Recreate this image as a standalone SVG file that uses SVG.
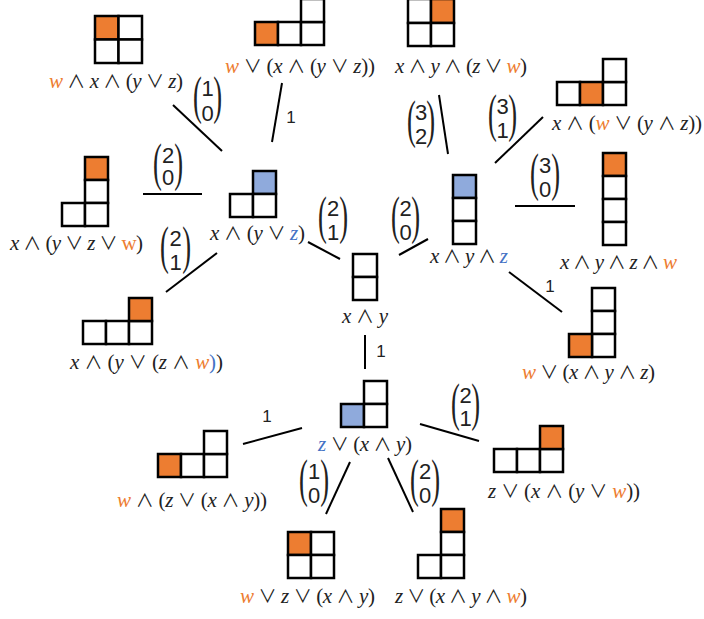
<svg xmlns="http://www.w3.org/2000/svg" width="704" height="619" viewBox="0 0 704 619">
<style>
.c{fill:#fff;stroke:#000;stroke-width:2.5}
.o{fill:#ED7D31}
.b{fill:#8FAADC}
.lb{font-family:"Liberation Serif","DejaVu Serif",serif;font-size:21px;fill:#222}
.v{font-style:italic}
.op{font-family:"Noto Sans CJK JP","DejaVu Sans",sans-serif;font-size:18px}
.or{fill:#ED7D31}
.bl{fill:#4472C4}
.e{stroke:#000;stroke-width:2;fill:none}
.n{font-family:"Liberation Sans",sans-serif;font-size:17px;fill:#222;text-anchor:middle}
.bd{font-family:"Liberation Sans",sans-serif;font-size:22px;fill:#222;text-anchor:middle}
.p{font-family:"Liberation Serif",serif;font-size:53px;fill:#222}
.pe{text-anchor:end}
</style>
<rect width="704" height="619" fill="#fff"/>
<g id="connectors">
<line class="e" x1="173" y1="105" x2="222" y2="151"/>
<line class="e" x1="282" y1="83" x2="272" y2="142"/>
<line class="e" x1="143" y1="194" x2="202" y2="194"/>
<line class="e" x1="217" y1="253" x2="166" y2="292"/>
<line class="e" x1="308" y1="242" x2="340" y2="259"/>
<line class="e" x1="439" y1="95" x2="448" y2="154"/>
<line class="e" x1="543" y1="117" x2="495" y2="163"/>
<line class="e" x1="515" y1="206" x2="575" y2="206"/>
<line class="e" x1="399" y1="255" x2="428" y2="239"/>
<line class="e" x1="509" y1="272" x2="562" y2="312"/>
<line class="e" x1="365" y1="335" x2="365" y2="369"/>
<line class="e" x1="243" y1="444" x2="302" y2="428"/>
<line class="e" x1="420" y1="424" x2="479" y2="441"/>
<line class="e" x1="350" y1="462" x2="326" y2="514"/>
<line class="e" x1="388" y1="458" x2="413" y2="512"/>
<text class="n" x="291" y="123">1</text>
<text class="n" x="550" y="292">1</text>
<text class="n" x="381" y="357">1</text>
<text class="n" x="267" y="422">1</text>
<g id="b1"><text class="p" transform="translate(193,113) scale(0.5,1)">(</text><text class="p pe" transform="translate(222,113) scale(0.5,1)">)</text><text class="bd" x="207.5" y="96">1</text><text class="bd" x="207.5" y="121">0</text></g>
<g id="b2"><text class="p" transform="translate(153,180) scale(0.5,1)">(</text><text class="p pe" transform="translate(183,180) scale(0.5,1)">)</text><text class="bd" x="168" y="163">2</text><text class="bd" x="168" y="185">0</text></g>
<g id="b3"><text class="p" transform="translate(160,263) scale(0.5,1)">(</text><text class="p pe" transform="translate(191,263) scale(0.5,1)">)</text><text class="bd" x="175.5" y="246">2</text><text class="bd" x="175.5" y="270">1</text></g>
<g id="b4"><text class="p" transform="translate(318,233) scale(0.5,1)">(</text><text class="p pe" transform="translate(348,233) scale(0.5,1)">)</text><text class="bd" x="333" y="216">2</text><text class="bd" x="333" y="240">1</text></g>
<g id="b5"><text class="p" transform="translate(391,233) scale(0.5,1)">(</text><text class="p pe" transform="translate(420,233) scale(0.5,1)">)</text><text class="bd" x="405.5" y="216">2</text><text class="bd" x="405.5" y="240">0</text></g>
<g id="b6"><text class="p" transform="translate(407,137) scale(0.5,1)">(</text><text class="p pe" transform="translate(435,137) scale(0.5,1)">)</text><text class="bd" x="421" y="120">3</text><text class="bd" x="421" y="144">2</text></g>
<g id="b7"><text class="p" transform="translate(488,131) scale(0.5,1)">(</text><text class="p pe" transform="translate(517,131) scale(0.5,1)">)</text><text class="bd" x="502.5" y="114">3</text><text class="bd" x="502.5" y="138">1</text></g>
<g id="b8"><text class="p" transform="translate(530,190) scale(0.5,1)">(</text><text class="p pe" transform="translate(560,190) scale(0.5,1)">)</text><text class="bd" x="545" y="173">3</text><text class="bd" x="545" y="197">0</text></g>
<g id="b9"><text class="p" transform="translate(451,420) scale(0.5,1)">(</text><text class="p pe" transform="translate(480,420) scale(0.5,1)">)</text><text class="bd" x="465.5" y="403">2</text><text class="bd" x="465.5" y="426">1</text></g>
<g id="b10"><text class="p" transform="translate(299,496) scale(0.5,1)">(</text><text class="p pe" transform="translate(329,496) scale(0.5,1)">)</text><text class="bd" x="314" y="479">1</text><text class="bd" x="314" y="503">0</text></g>
<g id="b11"><text class="p" transform="translate(410,496) scale(0.5,1)">(</text><text class="p pe" transform="translate(440,496) scale(0.5,1)">)</text><text class="bd" x="425" y="479">2</text><text class="bd" x="425" y="503">0</text></g>
</g>
<g id="n1">
<rect class="c o" x="95" y="16" width="23.5" height="23.5"/><rect class="c" x="118.5" y="16" width="23.5" height="23.5"/><rect class="c" x="95" y="39.5" width="23.5" height="23.5"/><rect class="c" x="118.5" y="39.5" width="23.5" height="23.5"/>
<text class="lb" x="49" y="88" textLength="134" lengthAdjust="spacing"><tspan class="v or">w</tspan> <tspan class="op">∧</tspan> <tspan class="v">x</tspan> <tspan class="op">∧</tspan> (<tspan class="v">y</tspan> <tspan class="op">∨</tspan> <tspan class="v">z</tspan>)</text>
</g>
<g id="n2">
<rect class="c o" x="255" y="22" width="23" height="23"/><rect class="c" x="278" y="22" width="23" height="23"/><rect class="c" x="301" y="22" width="23" height="23"/><rect class="c" x="301" y="-1" width="23" height="23"/>
<text class="lb" x="225" y="73" textLength="150" lengthAdjust="spacing"><tspan class="v or">w</tspan> <tspan class="op">∨</tspan> (<tspan class="v">x</tspan> <tspan class="op">∧</tspan> (<tspan class="v">y</tspan> <tspan class="op">∨</tspan> <tspan class="v">z</tspan>))</text>
</g>
<g id="n3">
<rect class="c" x="408" y="-1" width="23" height="24"/><rect class="c o" x="431" y="-1" width="23" height="24"/><rect class="c" x="408" y="23" width="23" height="23"/><rect class="c" x="431" y="23" width="23" height="23"/>
<text class="lb" x="395" y="73" textLength="132" lengthAdjust="spacing"><tspan class="v">x</tspan> <tspan class="op">∧</tspan> <tspan class="v">y</tspan> <tspan class="op">∧</tspan> (<tspan class="v">z</tspan> <tspan class="op">∨</tspan> <tspan class="v or">w</tspan>)</text>
</g>
<g id="n4">
<rect class="c" x="557" y="82" width="23" height="23"/><rect class="c o" x="580" y="82" width="23" height="23"/><rect class="c" x="603" y="82" width="23" height="23"/><rect class="c" x="603" y="59" width="23" height="23"/>
<text class="lb" x="552" y="130" textLength="150" lengthAdjust="spacing"><tspan class="v">x</tspan> <tspan class="op">∧</tspan> (<tspan class="v or">w</tspan> <tspan class="op">∨</tspan> (<tspan class="v">y</tspan> <tspan class="op">∧</tspan> <tspan class="v">z</tspan>))</text>
</g>
<g id="n5">
<rect class="c o" x="85" y="157" width="23" height="23"/><rect class="c" x="85" y="180" width="23" height="23"/><rect class="c" x="62" y="203" width="23" height="23"/><rect class="c" x="85" y="203" width="23" height="23"/>
<text class="lb" x="10" y="250" textLength="133" lengthAdjust="spacing"><tspan class="v">x</tspan> <tspan class="op">∧</tspan> (<tspan class="v">y</tspan> <tspan class="op">∨</tspan> <tspan class="v">z</tspan> <tspan class="op">∨</tspan> <tspan class="or">w</tspan>)</text>
</g>
<g id="n6">
<rect class="c b" x="253" y="171" width="23" height="23"/><rect class="c" x="230" y="194" width="23" height="23"/><rect class="c" x="253" y="194" width="23" height="23"/>
<text class="lb" x="210" y="240" textLength="95" lengthAdjust="spacing"><tspan class="v">x</tspan> <tspan class="op">∧</tspan> (<tspan class="v">y</tspan> <tspan class="op">∨</tspan> <tspan class="v bl">z</tspan>)</text>
</g>
<g id="n7">
<rect class="c b" x="453" y="175" width="23" height="23"/><rect class="c" x="453" y="198" width="23" height="23"/><rect class="c" x="453" y="221" width="23" height="23"/>
<text class="lb" x="430" y="263" textLength="78" lengthAdjust="spacing"><tspan class="v">x</tspan> <tspan class="op">∧</tspan> <tspan class="v">y</tspan> <tspan class="op">∧</tspan> <tspan class="v bl">z</tspan></text>
</g>
<g id="n8">
<rect class="c o" x="603" y="153" width="23" height="23"/><rect class="c" x="603" y="176" width="23" height="23"/><rect class="c" x="603" y="199" width="23" height="23"/><rect class="c" x="603" y="222" width="23" height="23"/>
<text class="lb" x="560" y="269" textLength="117" lengthAdjust="spacing"><tspan class="v">x</tspan> <tspan class="op">∧</tspan> <tspan class="v">y</tspan> <tspan class="op">∧</tspan> <tspan class="v">z</tspan> <tspan class="op">∧</tspan> <tspan class="v or">w</tspan></text>
</g>
<g id="n9">
<rect class="c" x="83" y="321" width="23" height="23"/><rect class="c" x="106" y="321" width="23" height="23"/><rect class="c" x="129" y="321" width="23" height="23"/><rect class="c o" x="129" y="298" width="23" height="23"/>
<text class="lb" x="70" y="369" textLength="153" lengthAdjust="spacing"><tspan class="v">x</tspan> <tspan class="op">∧</tspan> (<tspan class="v">y</tspan> <tspan class="op">∨</tspan> (<tspan class="v">z</tspan> <tspan class="op">∧</tspan> <tspan class="v or">w</tspan><tspan class="bl">)</tspan>)</text>
</g>
<g id="n10">
<rect class="c" x="353" y="254" width="24" height="23"/><rect class="c" x="353" y="277" width="24" height="23"/>
<text class="lb" x="342" y="323" textLength="46" lengthAdjust="spacing"><tspan class="v">x</tspan> <tspan class="op">∧</tspan> <tspan class="v">y</tspan></text>
</g>
<g id="n11">
<rect class="c" x="592" y="288" width="23" height="23"/><rect class="c" x="592" y="311" width="23" height="23"/><rect class="c" x="592" y="334" width="23" height="23"/><rect class="c o" x="569" y="334" width="23" height="23"/>
<text class="lb" x="522" y="379" textLength="133" lengthAdjust="spacing"><tspan class="v or">w</tspan> <tspan class="op">∨</tspan> (<tspan class="v">x</tspan> <tspan class="op">∧</tspan> <tspan class="v">y</tspan> <tspan class="op">∧</tspan> <tspan class="v">z</tspan>)</text>
</g>
<g id="n12">
<rect class="c" x="364" y="381" width="23" height="23"/><rect class="c b" x="341" y="404" width="23" height="23"/><rect class="c" x="364" y="404" width="23" height="23"/>
<text class="lb" x="318" y="451" textLength="94" lengthAdjust="spacing"><tspan class="v bl">z</tspan> <tspan class="op">∨</tspan> (<tspan class="v">x</tspan> <tspan class="op">∧</tspan> <tspan class="v">y</tspan>)</text>
</g>
<g id="n13">
<rect class="c o" x="158" y="454" width="23" height="23"/><rect class="c" x="181" y="454" width="23" height="23"/><rect class="c" x="204" y="454" width="23" height="23"/><rect class="c" x="204" y="431" width="23" height="23"/>
<text class="lb" x="117" y="507" textLength="150" lengthAdjust="spacing"><tspan class="v or">w</tspan> <tspan class="op">∧</tspan> (<tspan class="v">z</tspan> <tspan class="op">∨</tspan> (<tspan class="v">x</tspan> <tspan class="op">∧</tspan> <tspan class="v">y</tspan>))</text>
</g>
<g id="n14">
<rect class="c" x="494" y="449" width="23" height="23"/><rect class="c" x="517" y="449" width="23" height="23"/><rect class="c" x="540" y="449" width="23" height="23"/><rect class="c o" x="540" y="426" width="23" height="23"/>
<text class="lb" x="488" y="498" textLength="152" lengthAdjust="spacing"><tspan class="v">z</tspan> <tspan class="op">∨</tspan> (<tspan class="v">x</tspan> <tspan class="op">∧</tspan> (<tspan class="v">y</tspan> <tspan class="op">∨</tspan> <tspan class="v or">w</tspan>))</text>
</g>
<g id="n15">
<rect class="c o" x="288" y="532" width="23" height="23"/><rect class="c" x="311" y="532" width="23" height="23"/><rect class="c" x="288" y="555" width="23" height="23"/><rect class="c" x="311" y="555" width="23" height="23"/>
<text class="lb" x="240" y="603" textLength="135" lengthAdjust="spacing"><tspan class="v or">w</tspan> <tspan class="op">∨</tspan> <tspan class="v">z</tspan> <tspan class="op">∨</tspan> (<tspan class="v">x</tspan> <tspan class="op">∧</tspan> <tspan class="v">y</tspan>)</text>
</g>
<g id="n16">
<rect class="c o" x="441" y="509" width="23" height="23"/><rect class="c" x="441" y="532" width="23" height="23"/><rect class="c" x="418" y="555" width="23" height="23"/><rect class="c" x="441" y="555" width="23" height="23"/>
<text class="lb" x="395" y="603" textLength="132" lengthAdjust="spacing"><tspan class="v">z</tspan> <tspan class="op">∨</tspan> (<tspan class="v">x</tspan> <tspan class="op">∧</tspan> <tspan class="v">y</tspan> <tspan class="op">∧</tspan> <tspan class="v or">w</tspan>)</text>
</g>
</svg>
